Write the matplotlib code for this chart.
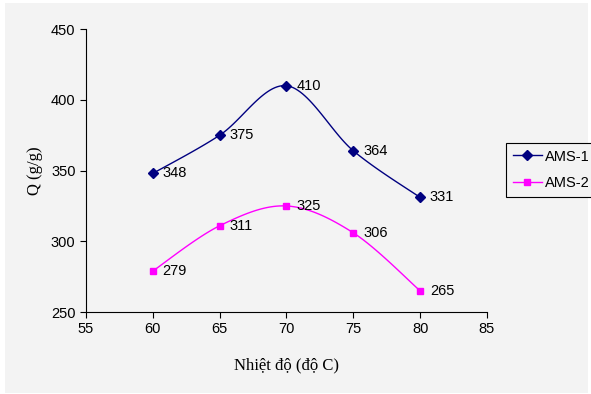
import numpy as np
import matplotlib.pyplot as plt
from matplotlib.patches import Rectangle

temp = [60, 65, 70, 75, 80]
ams1 = [348, 375, 410, 364, 331]
ams2 = [279, 311, 325, 306, 265]
x_ticks = [55, 60, 65, 70, 75, 80, 85]
y_ticks = [250, 300, 350, 400, 450]

plt.rcParams['font.family'] = ['Liberation Sans', 'DejaVu Sans']
plt.rcParams['font.size'] = 10.5


def smooth(x, y, n=30):
    # Excel-style smoothed line: cubic Bezier segments with Catmull-Rom control points
    x = np.asarray(x, float)
    y = np.asarray(y, float)
    px = np.concatenate([[x[0]], x, [x[-1]]])
    py = np.concatenate([[y[0]], y, [y[-1]]])
    xs, ys = [], []
    t = np.linspace(0, 1, n)
    for i in range(1, len(px) - 2):
        p0 = np.array([px[i], py[i]])
        p3 = np.array([px[i + 1], py[i + 1]])
        p1 = p0 + (np.array([px[i + 1], py[i + 1]]) - np.array([px[i - 1], py[i - 1]])) / 6
        p2 = p3 - (np.array([px[i + 2], py[i + 2]]) - np.array([px[i], py[i]])) / 6
        b = ((1 - t) ** 3)[:, None] * p0 + (3 * (1 - t) ** 2 * t)[:, None] * p1 \
            + (3 * (1 - t) * t ** 2)[:, None] * p2 + (t ** 3)[:, None] * p3
        xs.extend(b[:, 0])
        ys.extend(b[:, 1])
    return xs, ys


fig = plt.figure(figsize=(5.91, 3.94), dpi=100, facecolor='white')
fig.patches.append(Rectangle((5 / 591, 1 / 394), 583 / 591, 390 / 394,
                             transform=fig.transFigure, facecolor='#f3f3f3',
                             edgecolor='none', zorder=-1))
ax = fig.add_axes([0.1455, 0.208, 0.6785, 0.718])
ax.set_facecolor('#f3f3f3')

for y, col, mk, ms, name in [(ams1, '#000080', 'D', 5, 'AMS-1'),
                             (ams2, '#ff00ff', 's', 5, 'AMS-2')]:
    sx, sy = smooth(temp, y)
    ax.plot(sx, sy, color=col, lw=1)
    ax.plot(temp, y, color=col, lw=1, marker=mk, ms=ms, linestyle='none')
    ax.plot([], [], color=col, lw=1, marker=mk, ms=ms, label=name)
    for xv, yv in zip(temp, y):
        ax.annotate(str(yv), (xv, yv), xytext=(7, 0), textcoords='offset points',
                    ha='left', va='center')

ax.set_xlim(55, 85)
ax.set_ylim(250, 450)
ax.set_xticks(x_ticks)
ax.set_yticks(y_ticks)
ax.spines['top'].set_visible(False)
ax.spines['right'].set_visible(False)
ax.tick_params(direction='out', length=4, width=0.8, colors='black')
ax.set_xlabel('Nhiệt độ (độ C)', family=['Liberation Serif', 'DejaVu Serif'],
              fontsize=12, labelpad=15)
ax.set_ylabel('Q (g/g)', family=['Liberation Serif', 'DejaVu Serif'],
              fontsize=12, labelpad=6)

leg = fig.legend(loc='upper left', bbox_to_anchor=(506 / 591, 1 - 143 / 394),
                 borderaxespad=0, frameon=True, fancybox=False, edgecolor='black',
                 facecolor='#f3f3f3', framealpha=1, handlelength=2.0,
                 borderpad=0.45, labelspacing=0.85, handletextpad=0.2)
leg.get_frame().set_linewidth(0.8)

fig.savefig('out.png', dpi=100, facecolor=fig.get_facecolor())
